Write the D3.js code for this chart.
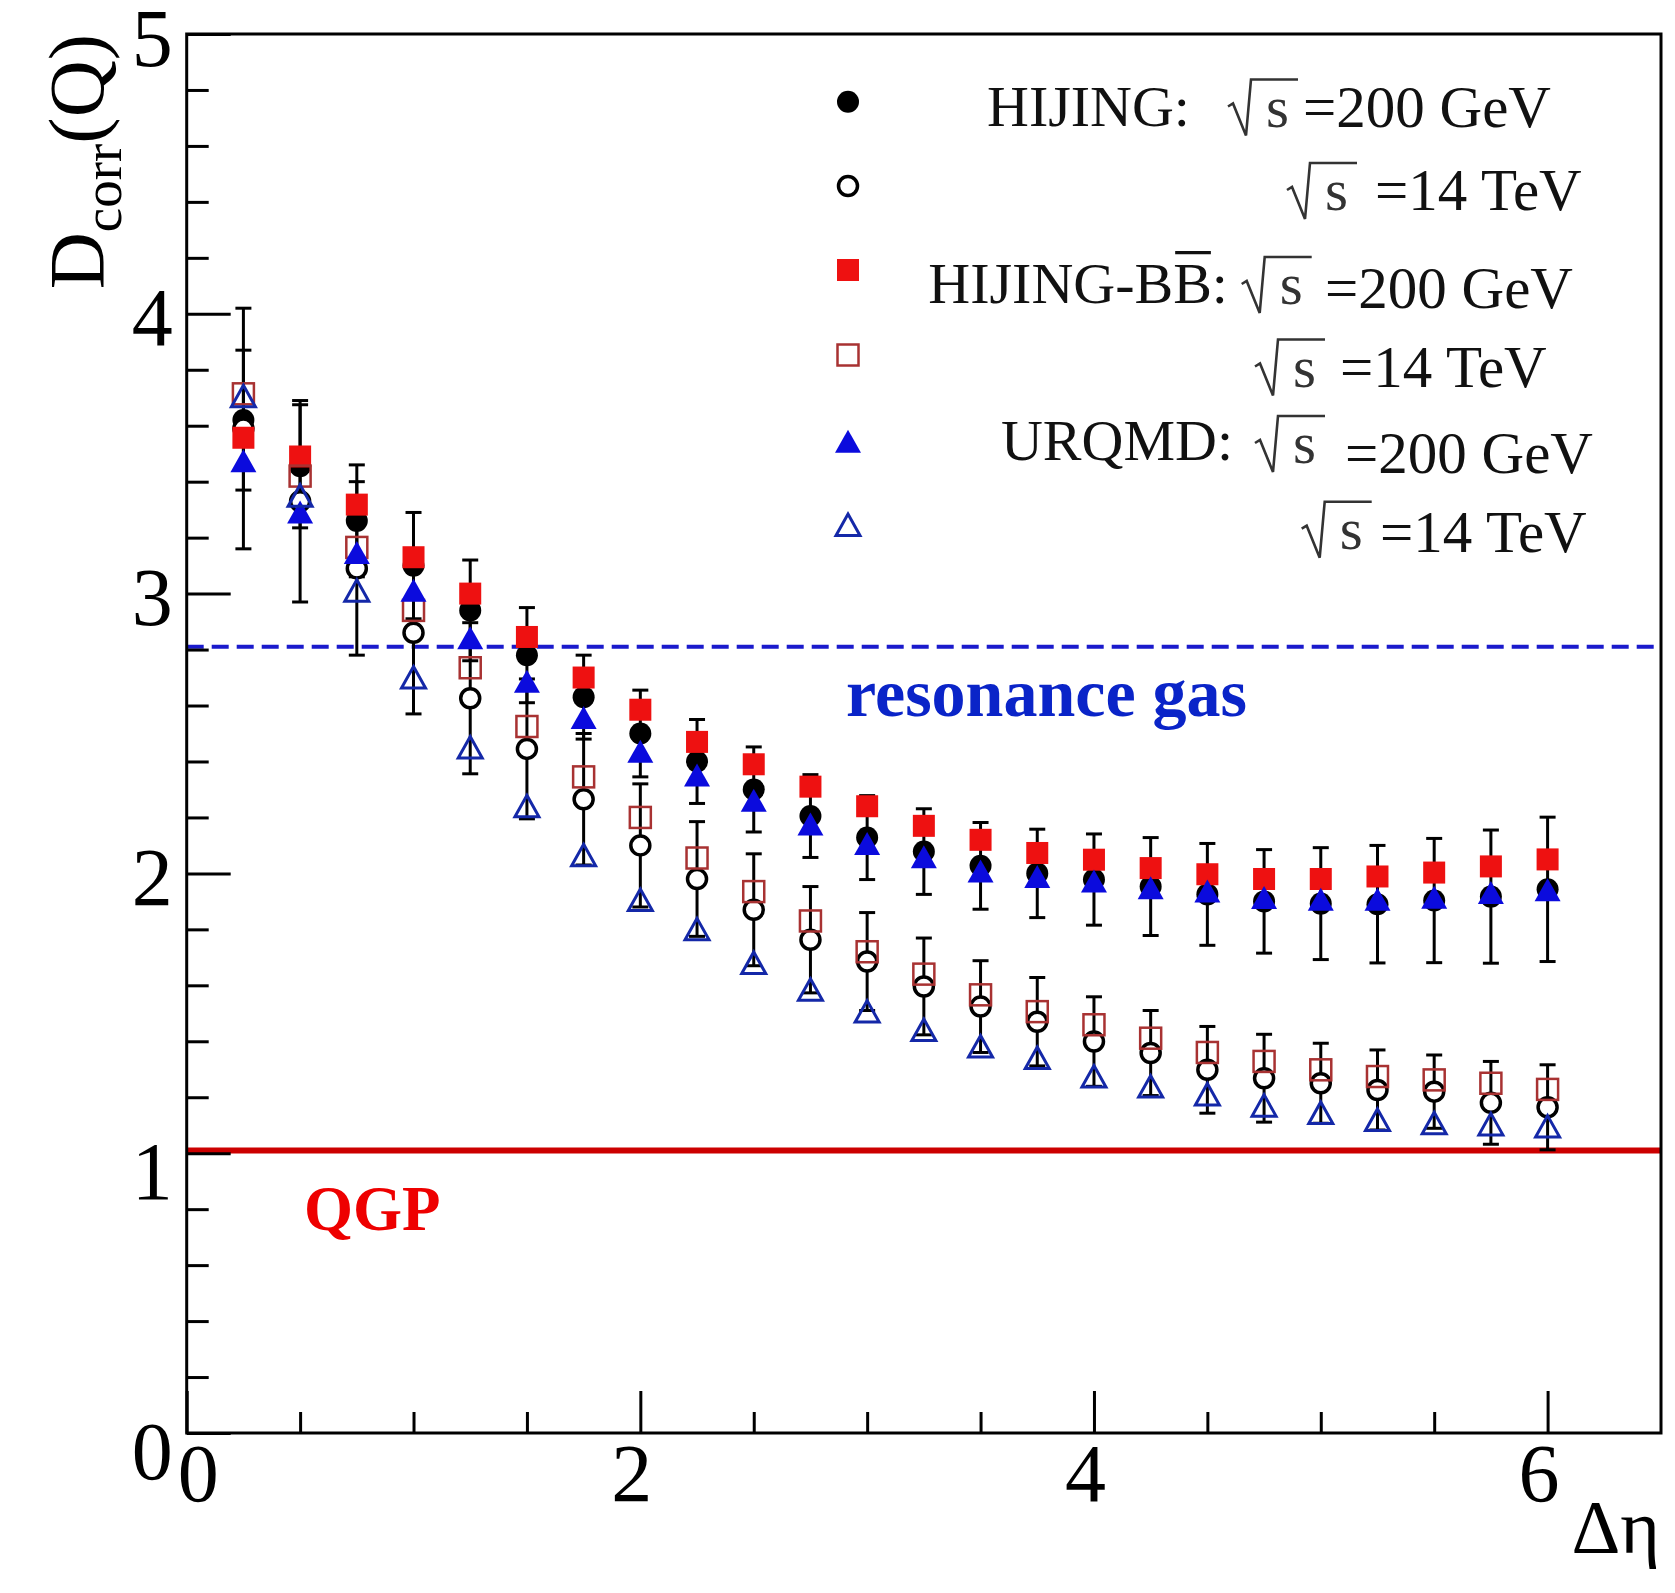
<!DOCTYPE html>
<html>
<head>
<meta charset="utf-8">
<script src="https://cdn.jsdelivr.net/npm/d3@7"></script>
<style>
  body { margin: 0; background: #fff; }
  svg { display: block; font-family: "Liberation Serif", "Times New Roman", serif; }
</style>
</head>
<body>
<div id="chart"></div>
<script>
// --- data ---
const eta = [0.25, 0.5, 0.75, 1.0, 1.25, 1.5, 1.75, 2.0, 2.25, 2.5, 2.75, 3.0,
             3.25, 3.5, 3.75, 4.0, 4.25, 4.5, 4.75, 5.0, 5.25, 5.5, 5.75, 6.0];

const hijing200    = [3.62, 3.455, 3.26, 3.10, 2.94, 2.78, 2.63, 2.50, 2.40, 2.30, 2.205, 2.128,
                      2.078, 2.027, 2.00, 1.978, 1.953, 1.925, 1.90, 1.892, 1.89, 1.903, 1.917, 1.943];
const hijing200Err = [0.25, 0.22, 0.20, 0.19, 0.18, 0.17, 0.15, 0.155, 0.15, 0.152, 0.148, 0.15,
                      0.153, 0.155, 0.158, 0.163, 0.175, 0.182, 0.185, 0.20, 0.21, 0.222, 0.238, 0.258];
const hijing14     = [3.59, 3.33, 3.09, 2.86, 2.626, 2.445, 2.265, 2.10, 1.98, 1.87, 1.763, 1.685,
                      1.596, 1.524, 1.47, 1.399, 1.358, 1.298, 1.268, 1.25, 1.226, 1.22, 1.18, 1.164];
const hijing14Err  = [0.43, 0.36, 0.31, 0.29, 0.27, 0.25, 0.235, 0.22, 0.205, 0.20, 0.19, 0.175,
                      0.173, 0.164, 0.158, 0.16, 0.152, 0.155, 0.157, 0.143, 0.143, 0.131, 0.148, 0.152];
const bbar200      = [3.557, 3.49, 3.318, 3.13, 3.00, 2.845, 2.70, 2.585, 2.47, 2.39, 2.31, 2.24,
                      2.17, 2.12, 2.073, 2.049, 2.019, 1.997, 1.98, 1.98, 1.989, 2.003, 2.025, 2.05];
const bbar14       = [3.714, 3.42, 3.165, 2.94, 2.735, 2.525, 2.345, 2.20, 2.055, 1.935, 1.83, 1.72,
                      1.64, 1.566, 1.506, 1.459, 1.411, 1.36, 1.328, 1.298, 1.274, 1.262, 1.25, 1.228];
const urqmd200     = [3.473, 3.29, 3.145, 3.01, 2.84, 2.685, 2.555, 2.435, 2.35, 2.26, 2.175, 2.105,
                      2.058, 2.007, 1.987, 1.971, 1.947, 1.935, 1.912, 1.906, 1.906, 1.913, 1.93, 1.94];
const urqmd14      = [3.705, 3.35, 3.01, 2.70, 2.45, 2.24, 2.065, 1.905, 1.80, 1.68, 1.584, 1.506,
                      1.44, 1.381, 1.34, 1.274, 1.238, 1.21, 1.17, 1.144, 1.119, 1.107, 1.103, 1.095];

const resonanceGas = 2.81;   // dashed reference level
const qgpLevel = 1.01;       // solid reference level

const xTicks = [0, 2, 4, 6];
const yTicks = [0, 1, 2, 3, 4, 5];

const legendNames    = ['HIJING:', '', 'HIJING-BB:', '', 'URQMD:', ''];
const legendEnergies = ['=200 GeV', '=14 TeV', '=200 GeV', '=14 TeV', '=200 GeV', '=14 TeV'];

// --- figure ---
const W = 1675, H = 1593;
const serif = '"Liberation Serif", "Times New Roman", serif';
const x = d3.scaleLinear().domain([0, 6.5]).range([186.7, 1661]);
const y = d3.scaleLinear().domain([0, 5]).range([1433, 34]);

const svg = d3.select('#chart').append('svg')
    .attr('width', W).attr('height', H);
svg.append('rect').attr('width', W).attr('height', H).attr('fill', '#fff');

// reference lines
svg.append('line')
    .attr('x1', x(0)).attr('x2', x(6.5))
    .attr('y1', y(resonanceGas)).attr('y2', y(resonanceGas))
    .attr('stroke', '#1a1acc').attr('stroke-width', 4)
    .attr('stroke-dasharray', '17,8');
svg.append('line')
    .attr('x1', x(0)).attr('x2', x(6.5))
    .attr('y1', y(qgpLevel)).attr('y2', y(qgpLevel))
    .attr('stroke', '#cc0000').attr('stroke-width', 6);

svg.append('text')
    .attr('x', 846).attr('y', 716)
    .attr('font-size', 68).attr('font-weight', 'bold')
    .attr('fill', '#0a24c8')
    .text('resonance gas');
svg.append('text')
    .attr('x', 304).attr('y', 1230)
    .attr('font-size', 63).attr('font-weight', 'bold')
    .attr('fill', '#ee0000')
    .text('QGP');

// axes
const yMinor = d3.range(0, 5.001, 0.2).filter(v => Math.abs(v - Math.round(v)) > 1e-6);
const xMinor = d3.range(0.5, 6.5, 0.5).filter(v => v % 2 !== 0);

const gy = svg.append('g').attr('transform', `translate(${x(0)},0)`);
gy.call(d3.axisLeft(y).tickValues(yMinor).tickSize(-22).tickSizeOuter(0).tickFormat(''));
gy.append('g').call(d3.axisLeft(y).tickValues(yTicks).tickSize(-44).tickSizeOuter(0)
    .tickPadding(14).tickFormat(d3.format('d')));
gy.selectAll('.domain').remove();
gy.selectAll('g').attr('font-family', serif).attr('font-size', 82);
gy.attr('font-family', serif);
gy.selectAll('text')
    .attr('dy', null)
    .attr('y', d => d <= 1 ? 45 : 31)
    .attr('font-size', 82)
    .attr('font-family', serif)
    .attr('fill', '#000');

const gx = svg.append('g').attr('transform', `translate(0,${y(0)})`);
gx.call(d3.axisBottom(x).tickValues(xMinor).tickSize(-21).tickSizeOuter(0).tickFormat(''));
gx.append('g').call(d3.axisBottom(x).tickValues(xTicks).tickSize(-42).tickSizeOuter(0)
    .tickFormat(d3.format('d')));
gx.selectAll('.domain').remove();
gx.selectAll('g').attr('font-family', serif).attr('font-size', 82);
gx.attr('font-family', serif);
gx.selectAll('text')
    .attr('dy', null)
    .attr('y', 68)
    .attr('x', d => d === 0 ? 11 : -9)
    .attr('font-size', 82)
    .attr('font-family', serif)
    .attr('fill', '#000');

svg.selectAll('.tick line').attr('stroke', '#000').attr('stroke-width', 3);

// frame
svg.append('rect')
    .attr('x', x(0)).attr('y', y(5))
    .attr('width', x(6.5) - x(0)).attr('height', y(0) - y(5))
    .attr('fill', 'none').attr('stroke', '#000').attr('stroke-width', 3);

// axis titles
svg.append('text')
    .attr('x', 1660).attr('y', 1553)
    .attr('text-anchor', 'end')
    .attr('font-size', 76)
    .attr('font-family', serif)
    .text('Δη');

const ytitle = svg.append('text')
    .attr('transform', 'translate(103,34) rotate(-90)')
    .attr('text-anchor', 'end')
    .attr('font-family', serif)
    .attr('font-size', 79);
ytitle.append('tspan').text('D');
ytitle.append('tspan').attr('font-size', 55).attr('dy', 18).text('corr');
ytitle.append('tspan').attr('dy', -18).text('(Q)');

// markers
const markers = {
  fcircle: g => g.append('circle').attr('r', 11).attr('fill', '#000'),
  ocircle: g => g.append('circle').attr('r', 9.5).attr('fill', '#fff')
                 .attr('stroke', '#000').attr('stroke-width', 3.5),
  fsquare: g => g.append('rect').attr('x', -11).attr('y', -11).attr('width', 22).attr('height', 22)
                 .attr('fill', '#ee1111'),
  osquare: g => g.append('rect').attr('x', -10.5).attr('y', -10.5).attr('width', 21).attr('height', 21)
                 .attr('fill', 'none').attr('stroke', '#a83232').attr('stroke-width', 2.5),
  ftri: g => g.append('path').attr('d', 'M0,-12 L13,11 L-13,11 Z').attr('fill', '#0b0bdd'),
  otri: g => g.append('path').attr('d', 'M0,-11 L12,10.5 L-12,10.5 Z').attr('fill', 'none')
                 .attr('stroke', '#1428a8').attr('stroke-width', 3).attr('stroke-linejoin', 'miter')
};

// error bars (HIJING only)
function errorBars(vals, errs) {
  const pts = eta.map((e, i) => ({x: e, v: vals[i], e: errs[i]}));
  const g = svg.append('g').attr('stroke', '#000').attr('stroke-width', 3);
  const bar = g.selectAll('g').data(pts).join('g');
  bar.append('line')
      .attr('x1', d => x(d.x)).attr('x2', d => x(d.x))
      .attr('y1', d => y(d.v - d.e)).attr('y2', d => y(d.v + d.e));
  bar.append('line')
      .attr('x1', d => x(d.x) - 8).attr('x2', d => x(d.x) + 8)
      .attr('y1', d => y(d.v + d.e)).attr('y2', d => y(d.v + d.e));
  bar.append('line')
      .attr('x1', d => x(d.x) - 8).attr('x2', d => x(d.x) + 8)
      .attr('y1', d => y(d.v - d.e)).attr('y2', d => y(d.v - d.e));
}
errorBars(hijing14, hijing14Err);
errorBars(hijing200, hijing200Err);

const series = [
  {vals: hijing200, mark: 'fcircle'},
  {vals: hijing14,  mark: 'ocircle'},
  {vals: bbar200,   mark: 'fsquare'},
  {vals: bbar14,    mark: 'osquare'},
  {vals: urqmd200,  mark: 'ftri'},
  {vals: urqmd14,   mark: 'otri'}
];

series.forEach(s => {
  svg.append('g').selectAll('g')
    .data(eta.map((e, i) => ({x: e, v: s.vals[i]})))
    .join('g')
    .attr('transform', d => `translate(${x(d.x)},${y(d.v)})`)
    .each(function() { markers[s.mark](d3.select(this)); });
});

// legend
const legendRows = [
  {my: 101.7, lx: 1190, lb: 126,   rx: 1228,   rb: 126.5, ex: 1303, eb: 126.7},
  {my: 186,   lx: 0,    lb: 0,     rx: 1287,   rb: 210,   ex: 1375, eb: 210},
  {my: 270,   lx: 1228, lb: 302.7, rx: 1241.7, rb: 304,   ex: 1325, eb: 308},
  {my: 355,   lx: 0,    lb: 0,     rx: 1255,   rb: 386.5, ex: 1340, eb: 386.7},
  {my: 441.7, lx: 1233, lb: 460,   rx: 1255,   rb: 463,   ex: 1345, eb: 473},
  {my: 525,   lx: 0,    lb: 0,     rx: 1301.7, rb: 548.7, ex: 1380, eb: 551.7}
];

const legend = svg.append('g').attr('font-size', 59).attr('fill', '#111');
legendRows.forEach((r, i) => {
  const m = legend.append('g').attr('transform', `translate(848,${r.my})`);
  markers[series[i].mark](m);

  if (legendNames[i]) {
    const t = legend.append('text')
        .attr('x', r.lx).attr('y', r.lb)
        .attr('text-anchor', 'end')
        .attr('font-size', 58)
        .text(legendNames[i]);
    if (legendNames[i].includes('BB')) {
      // overline on the anti-baryon B
      const node = t.node();
      const idx = legendNames[i].lastIndexOf('B');
      const x0 = node.getStartPositionOfChar(idx).x;
      const x1 = node.getEndPositionOfChar(idx).x;
      legend.append('line')
          .attr('x1', x0 + 2).attr('x2', x1 - 1)
          .attr('y1', r.lb - 50).attr('y2', r.lb - 50)
          .attr('stroke', '#111').attr('stroke-width', 3.3);
    }
  }

  // square root of s
  legend.append('path')
      .attr('d', `M${r.rx},${r.rb - 20} L${r.rx + 5},${r.rb - 23} L${r.rx + 18},${r.rb + 9}` +
                 ` L${r.rx + 23},${r.rb - 47} L${r.rx + 70},${r.rb - 47}`)
      .attr('fill', 'none').attr('stroke', '#333').attr('stroke-width', 2.6)
      .attr('stroke-linejoin', 'miter');
  legend.append('text')
      .attr('x', r.rx + 38).attr('y', r.rb)
      .attr('fill', '#333')
      .text('s');
  legend.append('text')
      .attr('x', r.ex).attr('y', r.eb)
      .text(legendEnergies[i]);
});
</script>
</body>
</html>
